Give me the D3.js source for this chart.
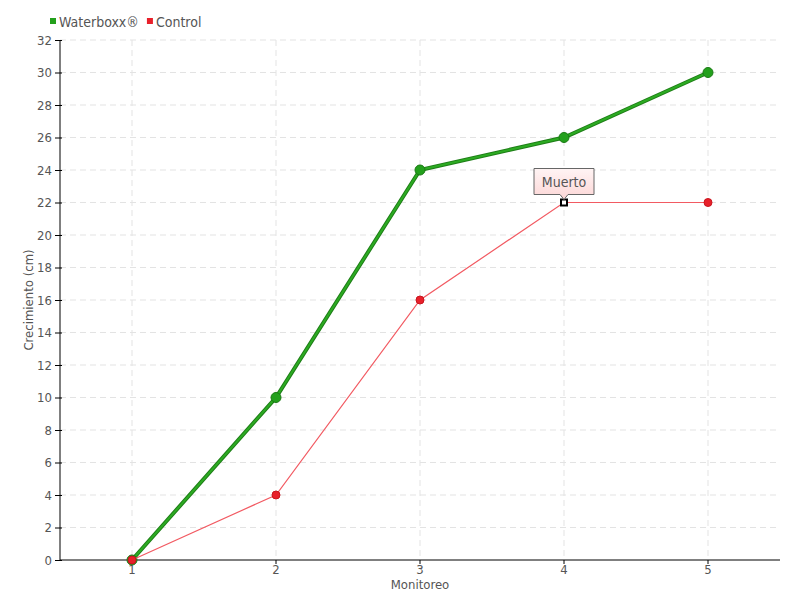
<!DOCTYPE html>
<html><head><meta charset="utf-8">
<script src="https://cdn.jsdelivr.net/npm/d3@7"></script>
<style>body{margin:0;background:#fff}svg{display:block}text{font-family:"DejaVu Sans Condensed","Liberation Sans Narrow",sans-serif;font-stretch:condensed;fill:#555}</style>
</head><body>
<script>
const categories = ["1","2","3","4","5"];
const waterboxx = [0,10,24,26,30];
const control = [0,4,16,22,22];
const yTicks = [0,2,4,6,8,10,12,14,16,18,20,22,24,26,28,30,32];
const seriesNames = ["Waterboxx®","Control"];
const seriesColors = ["#23a01c","#e8202a"];
const annotationIndex = 3;
const annotationLabel = "Muerto";

const W=800,H=600, L=60,R=780,T=40,B=560;
const svg=d3.select("body").append("svg").attr("width",W).attr("height",H);
const defs=svg.append("defs");
const gr=defs.append("linearGradient").attr("id","tip").attr("x1",0).attr("y1",0).attr("x2",0).attr("y2",1);
gr.append("stop").attr("offset","0").attr("stop-color","#fff4f4");
gr.append("stop").attr("offset","1").attr("stop-color","#fcd6d6");

const x=d3.scaleBand().domain(categories).range([L,R]);
const cx=c=>x(c)+x.bandwidth()/2;
const y=d3.scaleLinear().domain([0,32]).range([B,T]);

// grid
const g=svg.append("g");
g.selectAll("line.h").data(yTicks.slice(1)).join("line")
 .attr("x1",L).attr("x2",R).attr("y1",d=>y(d)).attr("y2",d=>y(d))
 .attr("stroke","#e3e3e3").attr("stroke-dasharray","6,4");
g.selectAll("line.v").data(categories).join("line")
 .attr("x1",d=>cx(d)).attr("x2",d=>cx(d)).attr("y1",T).attr("y2",B)
 .attr("stroke","#e3e3e3").attr("stroke-dasharray","6,4");

// axes
const ya=svg.append("g").attr("transform",`translate(${L},0)`)
 .call(d3.axisLeft(y).tickValues(yTicks).tickSize(5).tickPadding(3));
ya.select(".domain").attr("stroke","#000").attr("d",`M0,${T}V${B}`);
ya.selectAll(".tick line").attr("stroke","#000").attr("x2",-5).attr("x1",2);
ya.selectAll("text").style("font-size","13px").attr("fill","#555");
const xa=svg.append("g").attr("transform",`translate(0,${B})`)
 .call(d3.axisBottom(x).tickSize(4).tickPadding(1));
xa.select(".domain").attr("stroke","#000").attr("d",`M${L},0H${R}`);
xa.selectAll(".tick line").attr("stroke","#000");
xa.selectAll("text").style("font-size","13px").attr("fill","#555");

svg.append("text").attr("transform",`translate(33,${(T+B)/2}) rotate(-90)`)
 .attr("text-anchor","middle").style("font-size","13px").text("Crecimiento (cm)");
svg.append("text").attr("x",(L+R)/2).attr("y",589).attr("text-anchor","middle")
 .style("font-size","13px").text("Monitoreo");

const line=d3.line().x((d,i)=>cx(categories[i])).y(d=>y(d));
// waterboxx
svg.append("path").datum(waterboxx).attr("d",line).attr("fill","none")
 .attr("stroke","#1e7d17").attr("stroke-width",4);
svg.append("path").datum(waterboxx).attr("d",line).attr("fill","none")
 .attr("stroke","#2cab22").attr("stroke-width",2);
svg.selectAll("circle.w").data(waterboxx).join("circle").attr("class","w")
 .attr("cx",(d,i)=>cx(categories[i])).attr("cy",d=>y(d)).attr("r",5)
 .attr("fill","#23a01c").attr("stroke","#1a7a14").attr("stroke-width",1);
// control
svg.append("path").datum(control).attr("d",line).attr("fill","none")
 .attr("stroke","#f25a62").attr("stroke-width",1.2);
const cdata=control.map((v,i)=>({v,i}));
svg.selectAll("circle.c").data(cdata.filter(d=>d.i!==annotationIndex)).join("circle").attr("class","c")
 .attr("cx",d=>cx(categories[d.i])).attr("cy",d=>y(d.v)).attr("r",4)
 .attr("fill","#e8202a").attr("stroke","#c9151e").attr("stroke-width",1);
// annotated point
const ax=cx(categories[annotationIndex]), ay=y(control[annotationIndex]);
svg.append("rect").attr("x",ax-3).attr("y",ay-3).attr("width",6).attr("height",6)
 .attr("fill","#fff").attr("stroke","#000").attr("stroke-width",2);
// tooltip
const tw=60, th=26, tTop=ay-34;
svg.append("path")
 .attr("d",`M${ax-tw/2},${tTop}H${ax+tw/2}V${tTop+th}H${ax+4}L${ax},${tTop+th+5}L${ax-4},${tTop+th}H${ax-tw/2}Z`)
 .attr("fill","url(#tip)").attr("stroke","#666").attr("stroke-width",1);
svg.append("text").attr("x",ax).attr("y",tTop+18).attr("text-anchor","middle")
 .style("font-size","14px").attr("fill","#444").text(annotationLabel);

// legend
const lg=svg.append("g");
let lx=50;
seriesNames.forEach((n,i)=>{
  lg.append("rect").attr("x",lx).attr("y",18).attr("width",6).attr("height",6).attr("fill",seriesColors[i]);
  const t=lg.append("text").attr("x",lx+9).attr("y",27).style("font-size","14px").attr("fill","#555").text(n);
  lx+=t.node().getComputedTextLength()+17;
});
</script>
</body></html>
